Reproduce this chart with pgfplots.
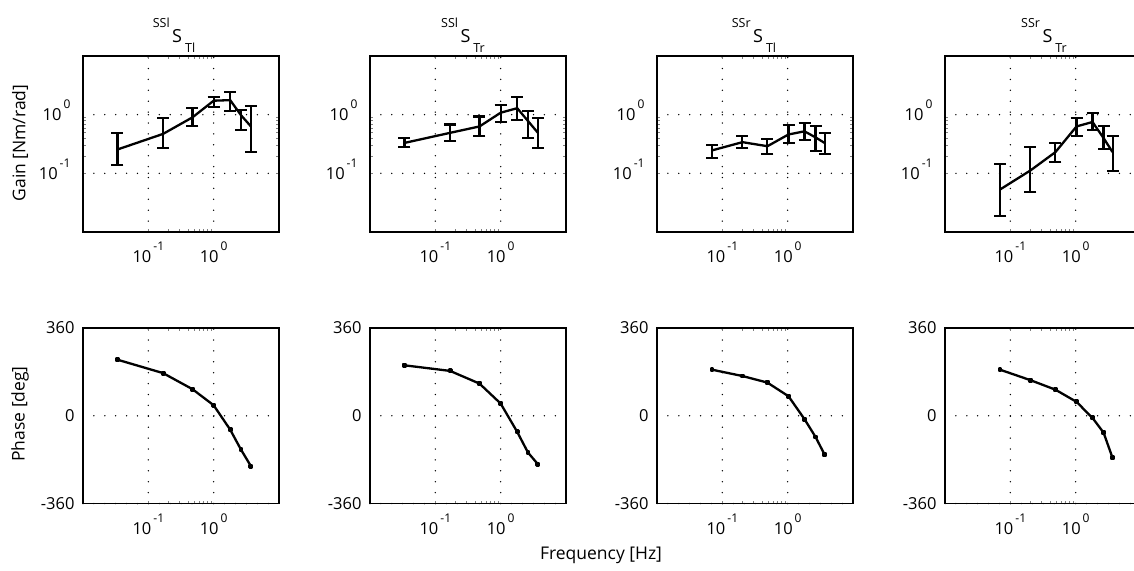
\documentclass[border=0pt]{standalone}
\usepackage{fontspec}
\setmainfont{Open Sans}
\usepackage{pgfplots}
\pgfplotsset{compat=1.18}

\newcommand{\tlab}[1]{10\smash{\raisebox{12pt}{\hspace{2pt}\fontsize{12}{12}\selectfont #1}}}
\newcommand{\ttl}[2]{\raisebox{15pt}{\fontsize{12.5}{12.5}\selectfont #1}\hspace{2.5pt}{\fontsize{18}{18}\selectfont S}\hspace{3pt}\raisebox{-10pt}{\fontsize{12.5}{12.5}\selectfont #2}}

\pgfplotsset{
  mybase/.style={
    scale only axis, width=196pt,
    xmin=0.01, xmax=10,
    xtick={0.1,1}, xticklabels={\tlab{-1},\tlab{0}},
    minor xtick={}, minor ytick={},
    major tick length=0pt,
    xmajorgrids=true, ymajorgrids=true,
    major grid style={black, line width=1.5pt, dash pattern=on 0pt off 10.9pt, line cap=round},
    axis line style={line width=1.9pt},
    tick label style={font=\fontsize{16.5}{16.5}\selectfont},
    xticklabel style={yshift=-15pt},
  },
  mygain/.style={mybase, height=176pt, ymin=0.01, ymax=10,
    ytick={0.1,1}, yticklabels={\tlab{-1},\tlab{0}},
    yticklabel style={xshift=-9pt}},
  myphase/.style={mybase, height=175.5pt, ymin=-360, ymax=360,
    ytick={-360,0,360}, yticklabels={-360,0,360},
    yticklabel style={xshift=-5pt}},
  pline/.style={black, line width=2.3pt, line join=round, mark=square*, mark size=1.3pt},
}

\begin{document}
\begin{tikzpicture}
% ---------- Gain row ----------
\begin{loglogaxis}[mygain, at={(83pt,-56pt)}, anchor=north west]
\addplot[black, line width=2.3pt, line join=round,
  error bars/.cd, y dir=both, y explicit,
  error bar style={line width=2.1pt},
  error mark options={rotate=90, mark size=6pt, line width=2.1pt, black}]
 table[x=f, y=g, y error plus expr=\thisrow{hi}-\thisrow{g}, y error minus expr=\thisrow{g}-\thisrow{lo}] {
f g lo hi
0.0337 0.255 0.137 0.48
0.168 0.47 0.27 0.865
0.474 0.90 0.63 1.30
1.0 1.73 1.37 2.02
1.79 1.77 1.17 2.45
2.62 0.98 0.54 1.22
3.72 0.63 0.23 1.42
};
\end{loglogaxis}
\begin{loglogaxis}[mygain, at={(370pt,-56pt)}, anchor=north west]
\addplot[black, line width=2.3pt, line join=round,
  error bars/.cd, y dir=both, y explicit,
  error bar style={line width=2.1pt},
  error mark options={rotate=90, mark size=6pt, line width=2.1pt, black}]
 table[x=f, y=g, y error plus expr=\thisrow{hi}-\thisrow{g}, y error minus expr=\thisrow{g}-\thisrow{lo}] {
f g lo hi
0.0337 0.33 0.28 0.40
0.168 0.49 0.35 0.68
0.474 0.63 0.43 0.93
1.0 1.08 0.75 1.48
1.79 1.29 0.80 2.0
2.62 0.78 0.40 1.14
3.72 0.49 0.27 0.875
};
\end{loglogaxis}
\begin{loglogaxis}[mygain, at={(657pt,-56pt)}, anchor=north west]
\addplot[black, line width=2.3pt, line join=round,
  error bars/.cd, y dir=both, y explicit,
  error bar style={line width=2.1pt},
  error mark options={rotate=90, mark size=6pt, line width=2.1pt, black}]
 table[x=f, y=g, y error plus expr=\thisrow{hi}-\thisrow{g}, y error minus expr=\thisrow{g}-\thisrow{lo}] {
f g lo hi
0.0695 0.246 0.18 0.30
0.203 0.34 0.27 0.43
0.49 0.29 0.216 0.38
1.03 0.46 0.33 0.66
1.81 0.52 0.365 0.73
2.67 0.41 0.24 0.64
3.67 0.33 0.21 0.49
};
\end{loglogaxis}
\begin{loglogaxis}[mygain, at={(945pt,-56pt)}, anchor=north west]
\addplot[black, line width=2.3pt, line join=round,
  error bars/.cd, y dir=both, y explicit,
  error bar style={line width=2.1pt},
  error mark options={rotate=90, mark size=6pt, line width=2.1pt, black}]
 table[x=f, y=g, y error plus expr=\thisrow{hi}-\thisrow{g}, y error minus expr=\thisrow{g}-\thisrow{lo}] {
f g lo hi
0.0695 0.053 0.019 0.146
0.203 0.112 0.048 0.28
0.49 0.23 0.156 0.33
1.03 0.63 0.43 0.875
1.81 0.75 0.54 1.08
2.67 0.40 0.26 0.63
3.67 0.23 0.108 0.43
};
\end{loglogaxis}
% ---------- Phase row ----------
\begin{semilogxaxis}[myphase, at={(83pt,-328pt)}, anchor=north west]
\addplot[pline] table {
0.0337 230
0.168 175
0.474 109
1.0 43
1.79 -57
2.62 -139
3.72 -207
};
\end{semilogxaxis}
\begin{semilogxaxis}[myphase, at={(370pt,-328pt)}, anchor=north west]
\addplot[pline] table {
0.0337 207
0.168 184
0.474 132
1.0 50
1.79 -66
2.62 -151
3.72 -199
};
\end{semilogxaxis}
\begin{semilogxaxis}[myphase, at={(657pt,-328pt)}, anchor=north west]
\addplot[pline] table {
0.0695 189
0.203 163
0.49 136
1.03 80
1.81 -14
2.67 -87
3.67 -159
};
\end{semilogxaxis}
\begin{semilogxaxis}[myphase, at={(945pt,-328pt)}, anchor=north west]
\addplot[pline] table {
0.0695 189
0.203 146
0.49 107
1.03 57
1.81 -9
2.67 -69
3.67 -173
};
\end{semilogxaxis}
% ---------- Titles and labels ----------
\node[anchor=base] at (174pt,-42pt) {\ttl{SSl}{Tl}};
\node[anchor=base] at (463pt,-42pt) {\ttl{SSl}{Tr}};
\node[anchor=base] at (754pt,-42pt) {\ttl{SSr}{Tl}};
\node[anchor=base] at (1044pt,-42pt) {\ttl{SSr}{Tr}};
\node[rotate=90, font=\fontsize{17.5}{17.5}\selectfont] at (20pt,-143pt) {Gain [Nm/rad]};
\node[rotate=90, font=\fontsize{17.5}{17.5}\selectfont] at (20pt,-414pt) {Phase [deg]};
\node[font=\fontsize{17.5}{17.5}\selectfont] at (601pt,-555pt) {Frequency [Hz]};
\pgfresetboundingbox
\useasboundingbox (0pt,0pt) rectangle (1134pt,-570pt);
\end{tikzpicture}
\end{document}
